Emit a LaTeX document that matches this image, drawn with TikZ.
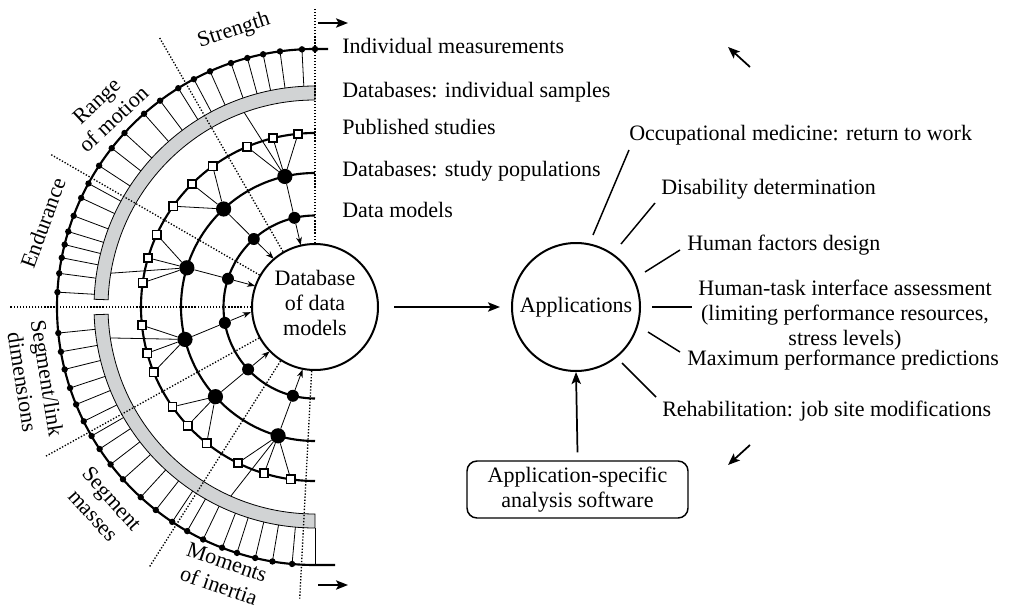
\documentclass[tikz,border=0pt]{standalone}
\usepackage{fontspec}
\setmainfont{Liberation Serif}
\usetikzlibrary{calc,arrows.meta}
\pgfdeclarelayer{bg}
\pgfsetlayers{bg,main}
\definecolor{bandgray}{RGB}{209,211,212}
\begin{document}
\begin{tikzpicture}[x=0.75pt,y=-0.75pt,
  font=\fontsize{16.5}{18.75}\selectfont,
  arcline/.style={line width=1.6pt},
  thinline/.style={line width=0.6pt},
  dotline/.style={line width=1pt, dash pattern=on 1pt off 1.3pt},
  smalldot/.style={circle, fill=black, inner sep=0pt, minimum size=4.8pt},
  bigdot/.style={circle, fill=black, inner sep=0pt, minimum size=11.4pt},
  meddot/.style={circle, fill=black, inner sep=0pt, minimum size=9pt},
  sqbox/.style={rectangle, draw=black, fill=white, line width=1.2pt, inner sep=0pt, minimum size=6.2pt},
  band/.style={fill=bandgray, draw=black, line width=0.6pt},
  bigarrow/.style={line width=1.3pt, -{Stealth[length=9pt,width=7pt,inset=2pt]}},
  smallarrow/.style={line width=0.6pt, -{Stealth[length=6pt,width=4.4pt]}},
  rayline/.style={line width=1.1pt},
  circnode/.style={circle, draw=black, line width=1.5pt, fill=white, inner sep=0pt, align=center},
  lbl/.style={inner sep=0pt, anchor=base west},
  seclbl/.style={inner sep=0pt, align=center},
  softbox/.style={rectangle, rounded corners=7.5pt, draw=black, line width=1.1pt, align=center, minimum width=165.75pt, minimum height=42.75pt, inner sep=2pt},
]
\useasboundingbox (0,0) rectangle (1010,613);
\coordinate (C) at (315,307);

% ---------- gray bands ----------
\begin{pgfonlayer}{bg}
\path[band] ($(C)+(-90:221)$) arc[start angle=-90,end angle=-178,radius=221]
  -- ($(C)+(-178:207)$) arc[start angle=-178,end angle=-90,radius=207] -- cycle;
\path[band] ($(C)+(-182:221)$) arc[start angle=-182,end angle=-270,radius=221]
  -- ($(C)+(-270:207)$) arc[start angle=-270,end angle=-182,radius=207] -- cycle;
\end{pgfonlayer}

% ---------- main nodes ----------
\node[circnode, minimum size=94.5pt] (db) at (C) {Database\\of data\\models\strut};
\node[circnode, minimum size=96pt] (app) at (576,307) {Applications};

% outer dots (individual measurements)
\node[smalldot] (u0) at ($(C)+(-90:258)$) {};
\foreach \a [count=\i] in {92.9,97.8,101.6,105.2,109,114,118,122,126.9,131.5,137.6,142,146.8,151.4,155,159.3,163,166,169,172.5,176.7}
  { \node[smalldot] (u\i) at ($(C)+(-\a:258)$) {}; }
\foreach \a [count=\i] in {185.8,190,194,198.3,202.2,206.3,210,213.4,217.6,221.9,227.5,231.9,236.4,240.3,244.3,248.9,252.4,256.6,260.5,264.9}
  { \node[smalldot] (w\i) at ($(C)+(-\a:258)$) {}; }

% squares (published studies)
\foreach \a [count=\i] in {95.6,104,113,126,135,144.6,155.4,163.6,172,186,195.4,202,215,223,231.5,243.7,253,262}
  { \node[sqbox] (s\i) at ($(C)+(-\a:174)$) {}; }

% big dots (study populations)
\foreach \a [count=\i] in {103,133,163,194,222,254}
  { \node[bigdot] (b\i) at ($(C)+(-\a:134)$) {}; }

% medium dots (data models)
\foreach \a [count=\i] in {103,132,162,190,223,256}
  { \node[meddot] (m\i) at ($(C)+(-\a:91.5)$) {}; }

% band anchor points
\coordinate (k1) at ($(C)+(-110:207)$);
\coordinate (k3) at ($(C)+(-170.6:207)$);
\coordinate (k4) at ($(C)+(-188.6:207)$);
\coordinate (k6) at ($(C)+(-246:207)$);

% ---------- background lines ----------
\begin{pgfonlayer}{bg}
\foreach \a [count=\i] in {92.9,97.8,101.6,105.2,109,114,118,122,126.9,131.5,137.6,142,146.8,151.4,155,159.3,163,166,169,172.5,176.7}
  { \draw[thinline] (u\i.center) -- ($(C)+(-\a:221)$); }
\foreach \a [count=\i] in {185.8,190,194,198.3,202.2,206.3,210,213.4,217.6,221.9,227.5,231.9,236.4,240.3,244.3,248.9,252.4,256.6,260.5,264.9}
  { \draw[thinline] (w\i.center) -- ($(C)+(-\a:221)$); }
\draw[thinline] ($(C)+(-270:221)$) -- ($(C)+(-270:258)$);

% dotted sector separators
\foreach \a/\r in {90/299,120/311,150/306,180/305,209/308,237.5/309,267/292}
  { \draw[dotline] ($(C)+(-\a:64)$) -- ($(C)+(-\a:\r)$); }

% arcs
\draw[arcline] (328,49) -- ($(C)+(-90:258)$) arc[start angle=-90,end angle=-270,radius=258] -- (335,565);
\draw[arcline] ($(C)+(-90:174)$) arc[start angle=-90,end angle=-270,radius=174];
\draw[arcline] ($(C)+(-90:134)$) arc[start angle=-90,end angle=-270,radius=134];
\draw[arcline] ($(C)+(-90:91.5)$) arc[start angle=-90,end angle=-270,radius=91.5];

% connectors
\foreach \s/\b in {1/1,2/1,3/1,4/2,5/2,6/2,7/3,8/3,9/3,10/4,11/4,12/4,13/5,14/5,15/5,16/6,17/6,18/6}
  { \draw[thinline] (s\s) -- (b\b); }
\foreach \k in {1,3,4,6} { \draw[thinline] (k\k) -- (b\k); }
\foreach \i in {1,...,6} { \draw[thinline] (b\i) -- (m\i); }
\end{pgfonlayer}
\foreach \i in {1,...,6} { \draw[smallarrow] (m\i) -- ($(m\i)!-21pt!(b\i)$); }

% ---------- sector labels ----------
\node[seclbl, rotate=18] (lS) at (234,31) {Strength};
\node[seclbl, rotate=43] (lR) at (105,110) {Range\\of motion};
\node[seclbl, rotate=70] (lE) at (43,223) {Endurance};
\node[seclbl, rotate=-81] (lD) at (35,380) {Segment/link\\dimensions};
\node[seclbl, rotate=-48] (lM) at (103,507) {Segment\\masses};
\node[seclbl, rotate=-19] (lI) at (223,574) {Moments\\of inertia};

% ---------- level labels ----------
\node[lbl] (t1) at (342,54) {Individual measurements};
\node[lbl] (t2) at (342,98) {Databases: individual samples};
\node[lbl] (t3) at (342,135) {Published studies};
\node[lbl] (t4) at (342,176) {Databases: study populations};
\node[lbl] (t5) at (342,217) {Data models};

% ---------- application labels ----------
\node[lbl] (a1) at (629,141) {Occupational medicine: return to work};
\node[lbl] (a2) at (661,195) {Disability determination};
\node[lbl] (a3) at (687,250) {Human factors design};
\node[inner sep=0pt, align=center, anchor=north] (a4) at (845,280) {Human-task interface assessment\\(limiting performance resources,\\stress levels)};
\node[lbl] (a5) at (687,365) {Maximum performance predictions};
\node[lbl] (a6) at (662,416) {Rehabilitation: job site modifications};

\coordinate (p1s) at (593,235); \coordinate (p1e) at (629,150);
\coordinate (p2s) at (621,244); \coordinate (p2e) at (655,203);
\coordinate (p3s) at (645,272); \coordinate (p3e) at (680,250);
\coordinate (p4s) at (652,307); \coordinate (p4e) at (692,307);
\coordinate (p5s) at (648,332); \coordinate (p5e) at (680,352);
\coordinate (p6s) at (622,363); \coordinate (p6e) at (656,397);
\foreach \i in {1,...,6} { \draw[rayline] (p\i s) -- (p\i e); }

% ---------- software box and arrows ----------
\node[softbox] (box) at (577.5,489.5) {Application-specific\\analysis software};
\draw[bigarrow] ([xshift=11.25pt]db.east) -- ([xshift=-8.25pt]app.west);
\draw[bigarrow] ([yshift=6pt]box.north) -- (app.south);

\coordinate (ar1a) at (318,23);  \coordinate (ar1b) at (348,23);
\coordinate (ar2a) at (318,585); \coordinate (ar2b) at (348,585);
\coordinate (ar3a) at (750,67);  \coordinate (ar3b) at (728,47);
\coordinate (ar4a) at (750,445); \coordinate (ar4b) at (728,465);
\draw[bigarrow] (ar1a) -- (ar1b);
\draw[bigarrow] (ar2a) -- (ar2b);
\draw[bigarrow] (ar3a) -- (ar3b);
\draw[bigarrow] (ar4a) -- (ar4b);
\end{tikzpicture}
\end{document}
